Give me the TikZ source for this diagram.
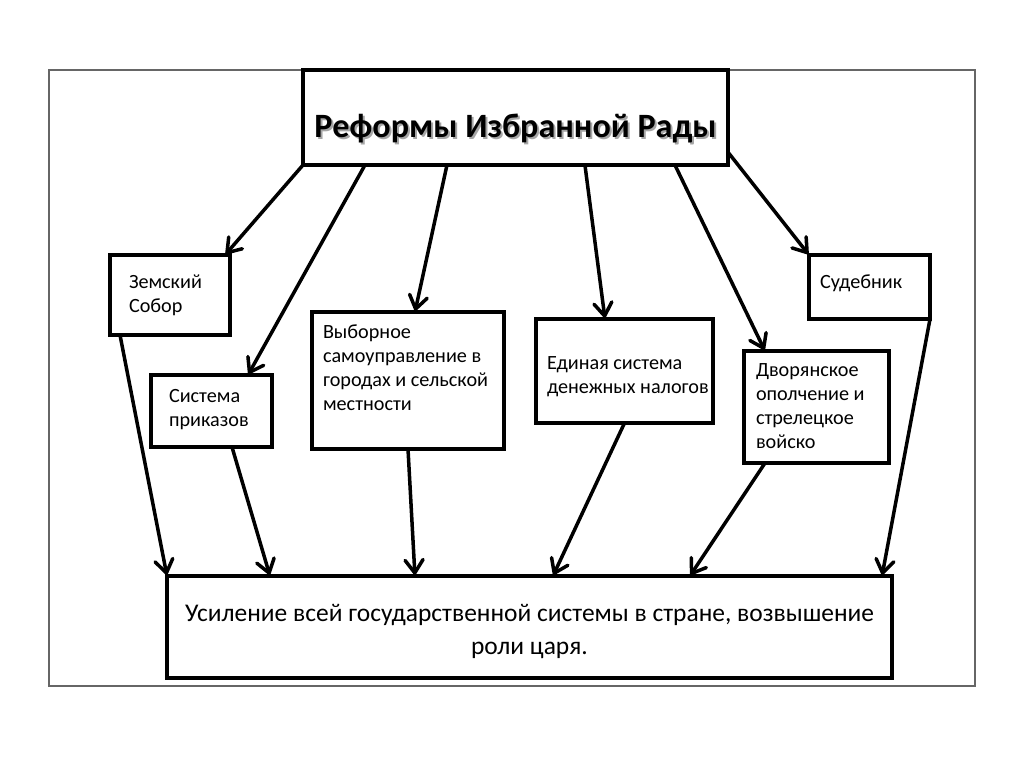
\documentclass[tikz,border=0pt]{standalone}
\usepackage{fontspec}
\setmainfont{Carlito}
\usetikzlibrary{arrows.meta,calc}
\newlength{\du}
\setlength{\du}{0.02cm}
\definecolor{dialinecolor}{rgb}{0.000000, 0.000000, 0.000000}
\definecolor{diaframecolor}{rgb}{0.400000, 0.400000, 0.400000}
\definecolor{diashadowcolor}{rgb}{0.650000, 0.650000, 0.650000}
\tikzset{
  box/.style={draw=dialinecolor, line width=3.5\du, inner sep=0pt, outer sep=0pt},
  boxtext/.style={anchor=north west, inner sep=0pt, outer sep=0pt, align=left,
    font=\fontsize{11.5}{13.6}\selectfont},
  titletext/.style={anchor=base, inner sep=0pt, outer sep=0pt,
    font=\fontsize{19.4}{23}\selectfont\bfseries},
  link/.style={draw=dialinecolor, line width=3.5\du, line cap=round,
    -{Straight Barb[length=2.6mm,width=3.6mm,line cap=round]}},
}
\begin{document}
\begin{tikzpicture}
\pgftransformyscale{-1.000000}
\useasboundingbox (0\du,0\du) rectangle (1024\du,767\du);
% slide frame
\draw[draw=diaframecolor, line width=1.2\du] (49\du,70\du) rectangle (975\du,686\du);
% boxes
\node[box, minimum width=425\du, minimum height=95\du] (reform) at (515.5\du,117.5\du) {};
\node[box, minimum width=120\du, minimum height=80\du] (zemstvo) at (170\du,295\du) {};
\node[box, minimum width=121\du, minimum height=72\du] (prikaz) at (211.5\du,411\du) {};
\node[box, minimum width=192\du, minimum height=137\du] (vybor) at (408\du,380.5\du) {};
\node[box, minimum width=177\du, minimum height=104\du] (nalog) at (624.5\du,371\du) {};
\node[box, minimum width=121\du, minimum height=64\du] (sudeb) at (869.5\du,287\du) {};
\node[box, minimum width=145\du, minimum height=112\du] (voisko) at (816.5\du,407\du) {};
\node[box, minimum width=725\du, minimum height=102\du] (result) at (529.5\du,627\du) {};
% texts
\node[titletext, text=diashadowcolor] (reformshadow) at (517.5\du,139\du) {Реформы Избранной Рады};
\node[titletext, text=dialinecolor] (reformtxt) at (515.5\du,137\du) {Реформы Избранной Рады};
\node[boxtext] (zemstvotxt) at (129\du,275\du) {Земский\\Собор};
\node[boxtext] (prikaztxt) at (169\du,389\du) {Система\\приказов};
\node[boxtext] (vybortxt) at (323\du,325\du) {Выборное\\самоуправление в\\городах и сельской\\местности};
\node[boxtext] (nalogtxt) at (547\du,357\du) {Единая система\\денежных налогов};
\node[boxtext] (sudebtxt) at (820\du,275\du) {Судебник};
\node[boxtext] (voiskotxt) at (756\du,364\du) {Дворянское\\ополчение и\\стрелецкое\\войско};
\node[anchor=north, inner sep=0pt, outer sep=0pt, align=center,
  font=\fontsize{14.5}{18.7}\selectfont] (resulttxt) at (529.5\du,604\du)
  {Усиление всей государственной системы в стране, возвышение\\роли царя.};
% arrows from the title
\draw[link] (reform.south west) -- ([xshift=-0.1cm]zemstvo.north east);
\draw[link] ([xshift=1.24cm]reform.south west) -- ([xshift=1.94cm]prikaz.north west);
\draw[link] ([xshift=2.88cm]reform.south west) -- ([xshift=2.06cm]vybor.north west);
\draw[link] ([xshift=5.64cm]reform.south west) -- ([xshift=1.38cm]nalog.north west);
\draw[link] ([xshift=7.44cm]reform.south west) -- ([xshift=0.42cm]voisko.north west);
\draw[link] ($(reform.south east)!0.27!(reform.east)$) -- (sudeb.north west);
% arrows to the result
\draw[link] ([xshift=0.2cm]zemstvo.south west) -- (result.north west);
\draw[link] ([xshift=1.62cm]prikaz.south west) -- ([xshift=2.06cm]result.north west);
\draw[link] (vybor.south) -- ([xshift=4.96cm]result.north west);
\draw[link] (nalog.south) -- ([xshift=7.72cm]result.north west);
\draw[link] ([xshift=0.42cm]voisko.south west) -- ([xshift=10.46cm]result.north west);
\draw[link] (sudeb.south east) -- ([xshift=-0.2cm]result.north east);
\end{tikzpicture}
\end{document}
